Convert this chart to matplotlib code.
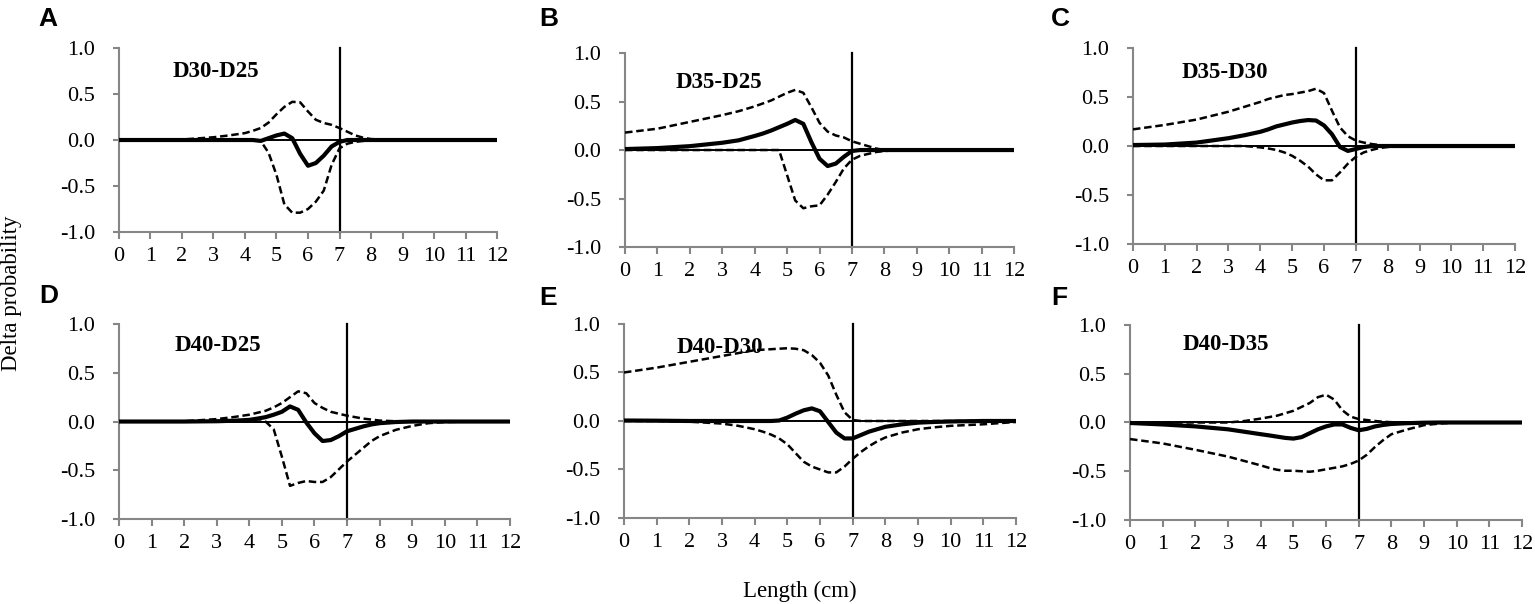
import matplotlib
matplotlib.use("Agg")
import matplotlib.pyplot as plt

# common length grid (cm) the curves were read on
xs = [0, 1, 2, 3, 3.5, 4, 4.25, 4.5, 4.75, 5, 5.25, 5.5, 5.75, 6, 6.25, 6.5,
      6.75, 7, 7.25, 7.5, 7.75, 8, 8.5, 9, 9.5, 10, 11, 12]

titles = ["D30-D25", "D35-D25", "D35-D30", "D40-D25", "D40-D30", "D40-D35"]
letters = ["A", "B", "C", "D", "E", "F"]

# A: D30-D25
a_up = [0, 0, 0.005, 0.03, 0.05, 0.075, 0.1, 0.13, 0.19, 0.28, 0.36, 0.415, 0.41, 0.31,
        0.22, 0.185, 0.165, 0.13, 0.09, 0.05, 0.025, 0.01, 0.003, 0, 0, 0, 0, 0]
a_mean = [0, 0, 0, 0, 0, 0, 0, -0.01, 0.02, 0.05, 0.07, 0.02, -0.15, -0.28,
          -0.25, -0.17, -0.07, -0.02, 0, 0, 0, 0, 0, 0, 0, 0, 0, 0]
a_low = [0, 0, 0, 0, 0, 0, 0, -0.01, -0.14, -0.38, -0.7, -0.79, -0.79, -0.75,
         -0.67, -0.55, -0.27, -0.09, -0.04, -0.02, -0.01, 0, 0, 0, 0, 0, 0, 0]

# B: D35-D25
b_up = [0.18, 0.22, 0.29, 0.36, 0.4, 0.45, 0.48, 0.51, 0.55, 0.59, 0.62, 0.59, 0.44, 0.28,
        0.19, 0.15, 0.13, 0.09, 0.065, 0.04, 0.015, 0, 0, 0, 0, 0, 0, 0]
b_mean = [0.01, 0.02, 0.04, 0.075, 0.1, 0.145, 0.17, 0.2, 0.235, 0.27, 0.31, 0.27, 0.08, -0.09,
          -0.165, -0.14, -0.07, -0.01, 0, 0, 0, 0, 0, 0, 0, 0, 0, 0]
b_low = [0, 0, 0, 0, 0, 0, 0, 0, 0, -0.26, -0.52, -0.6, -0.58, -0.57,
         -0.46, -0.33, -0.19, -0.1, -0.06, -0.04, -0.02, -0.01, 0, 0, 0, 0, 0, 0]

# C: D35-D30
c_up = [0.17, 0.215, 0.27, 0.35, 0.4, 0.45, 0.48, 0.5, 0.52, 0.53, 0.545, 0.56, 0.585, 0.54,
        0.36, 0.19, 0.1, 0.055, 0.035, 0.02, 0.01, 0, 0, 0, 0, 0, 0, 0]
c_mean = [0.01, 0.015, 0.035, 0.08, 0.11, 0.145, 0.17, 0.2, 0.22, 0.24, 0.255, 0.265, 0.26, 0.21,
          0.12, -0.01, -0.05, -0.03, -0.01, 0, 0, 0, 0, 0, 0, 0, 0, 0]
c_low = [0, 0, 0, 0, 0, -0.014, -0.025, -0.04, -0.065, -0.1, -0.15, -0.21, -0.29, -0.35,
         -0.35, -0.27, -0.18, -0.11, -0.065, -0.04, -0.02, -0.01, 0, 0, 0, 0, 0, 0]

# D: D40-D25
d_up = [0, 0, 0.003, 0.025, 0.045, 0.07, 0.09, 0.11, 0.145, 0.19, 0.25, 0.31, 0.29, 0.19,
        0.14, 0.1, 0.08, 0.06, 0.045, 0.03, 0.02, 0.01, 0.003, 0, 0, 0, 0, 0]
d_mean = [0, 0, 0, 0.003, 0.008, 0.017, 0.03, 0.045, 0.07, 0.1, 0.155, 0.12, -0.01, -0.12,
          -0.2, -0.19, -0.15, -0.1, -0.075, -0.05, -0.03, -0.017, -0.005, 0, 0, 0, 0, 0]
d_low = [0, 0, 0, 0, 0, 0, 0, 0, -0.08, -0.36, -0.66, -0.63, -0.61, -0.62,
         -0.62, -0.57, -0.49, -0.41, -0.34, -0.27, -0.2, -0.15, -0.085, -0.045, -0.017, -0.005, 0, 0]

# E: D40-D30
e_up = [0.5, 0.55, 0.61, 0.67, 0.7, 0.73, 0.735, 0.74, 0.745, 0.75, 0.745, 0.73, 0.68, 0.6,
        0.47, 0.27, 0.09, 0.01, 0, 0, 0, 0, 0, 0, 0, 0, 0, 0]
e_mean = [0.005, 0.003, 0, 0, 0, 0, 0, 0, 0.005, 0.035, 0.075, 0.11, 0.13, 0.1,
          -0.01, -0.12, -0.18, -0.18, -0.145, -0.11, -0.085, -0.06, -0.035, -0.017, -0.01, -0.005, 0, 0]
e_low = [0, 0, -0.007, -0.027, -0.05, -0.085, -0.11, -0.14, -0.18, -0.24, -0.33, -0.42, -0.47, -0.5,
         -0.53, -0.53, -0.47, -0.39, -0.32, -0.26, -0.21, -0.17, -0.12, -0.085, -0.065, -0.05, -0.034, -0.01]

# F: D40-D35
f_up = [0, 0, 0, 0, 0.015, 0.04, 0.055, 0.07, 0.095, 0.12, 0.16, 0.2, 0.26, 0.285,
        0.235, 0.125, 0.06, 0.035, 0.025, 0.015, 0.008, 0.003, 0, 0, 0, 0, 0, 0]
f_mean = [-0.005, -0.02, -0.04, -0.07, -0.095, -0.12, -0.132, -0.145, -0.158, -0.165, -0.15, -0.11, -0.07, -0.04,
          -0.02, -0.02, -0.055, -0.08, -0.065, -0.04, -0.025, -0.015, -0.007, -0.002, 0, 0, 0, 0]
f_low = [-0.17, -0.215, -0.28, -0.35, -0.395, -0.44, -0.465, -0.485, -0.495, -0.495, -0.5, -0.505, -0.495, -0.48,
         -0.465, -0.45, -0.425, -0.39, -0.33, -0.25, -0.18, -0.12, -0.07, -0.027, -0.01, 0, 0, 0]

uppers = [a_up, b_up, c_up, d_up, e_up, f_up]
means = [a_mean, b_mean, c_mean, d_mean, e_mean, f_mean]
lowers = [a_low, b_low, c_low, d_low, e_low, f_low]

# axes boxes in figure fraction [left, bottom, width, height]
boxes = [
    [0.0775, 0.6159, 0.2463, 0.3046],
    [0.4072, 0.5910, 0.2534, 0.3212],
    [0.7381, 0.5960, 0.2489, 0.3245],
    [0.0775, 0.1407, 0.2547, 0.3228],
    [0.4065, 0.1424, 0.2554, 0.3212],
    [0.7362, 0.1391, 0.2554, 0.3228],
]
title_pos = [(1.7, 0.75), (1.57, 0.70), (1.54, 0.755), (1.72, 0.785), (1.62, 0.76), (1.62, 0.795)]
letter_pos = [(38, 7), (539, 7), (1051, 7), (39, 284), (539, 286), (1051, 286)]

serif = "Liberation Serif"
grey = "#868686"

fig = plt.figure(figsize=(15.35, 6.04), dpi=100)

for i in range(6):
    ax = fig.add_axes(boxes[i])
    ax.set_xlim(0, 12)
    ax.set_ylim(-1, 1)
    ax.axhline(0, color="black", lw=1.4, zorder=1)
    ax.plot([7, 7], [-1, 1], color="black", lw=1.6, zorder=2, clip_on=False)
    ax.plot(xs, uppers[i], color="black", lw=1.8, dashes=(3, 1.5), zorder=3)
    ax.plot(xs, lowers[i], color="black", lw=1.8, dashes=(3, 1.5), zorder=3)
    ax.plot(xs, means[i], color="black", lw=3.0, zorder=4, solid_capstyle="round",
            solid_joinstyle="round")

    for s in ["top", "right"]:
        ax.spines[s].set_visible(False)
    for s in ["left", "bottom"]:
        ax.spines[s].set_color(grey)
        ax.spines[s].set_linewidth(1.5)

    ax.set_xticks(range(13))
    ax.set_yticks([-1.0, -0.5, 0.0, 0.5, 1.0])
    ax.set_yticklabels(["-1.0", "-0.5", "0.0", "0.5", "1.0"])
    ax.tick_params(axis="x", direction="out", length=5, width=1.5, color=grey, pad=6,
                   labelsize=16)
    ax.tick_params(axis="y", direction="out", length=4, width=1.5, color=grey, pad=13,
                   labelsize=16)
    for lab in ax.get_xticklabels() + ax.get_yticklabels():
        lab.set_fontfamily(serif)

    ax.text(title_pos[i][0], title_pos[i][1], titles[i], fontsize=16.5, fontweight="bold",
            family=serif, ha="left", va="center", zorder=5)

    fig.text(letter_pos[i][0] / 1535, 1 - letter_pos[i][1] / 604, letters[i],
             fontsize=19, fontweight="bold", family="Liberation Sans", ha="left", va="top")

fig.text(12 / 1535, 1 - 293 / 604, "Delta probability", rotation=90, fontsize=16.5,
         family=serif, ha="center", va="center")
fig.text(800 / 1535, 1 - 591 / 604, "Length (cm)", fontsize=16.5, family=serif,
         ha="center", va="center")

fig.savefig("out.png", dpi=100)
